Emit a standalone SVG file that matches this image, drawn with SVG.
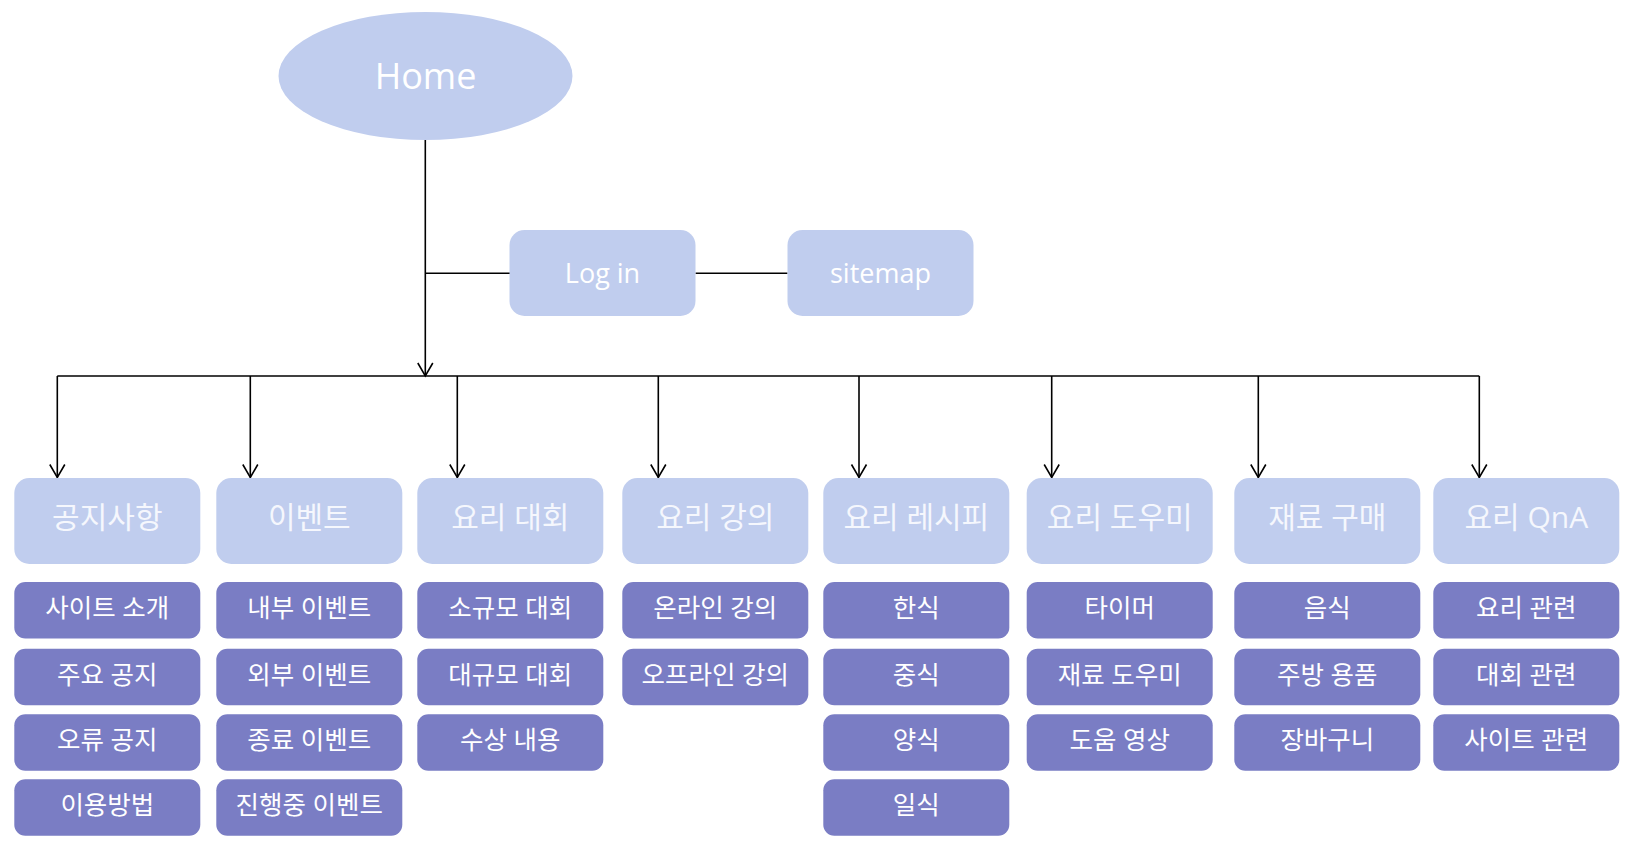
<svg xmlns="http://www.w3.org/2000/svg" width="1627" height="866" viewBox="0 0 1627 866">
<style>
text{font-family:"Open Sans","Noto Sans CJK KR",sans-serif;fill:#FFFFFF;text-anchor:middle}
.top{fill:#C0CDEE}
.hd{fill:#C0CDEE}
.sb{fill:#7A7DC4}
.ht{font-size:30px;fill:#F5F7FD}
.st{font-size:25.5px}
.lt{font-size:27px}
.ln{stroke:#000;stroke-width:1.6;fill:none}
</style>
<defs>
<marker id="arr" viewBox="-15 -9 17 18" refX="0" refY="0" markerWidth="17" markerHeight="18" markerUnits="userSpaceOnUse" orient="auto">
<path d="M-13,-7.5 L0,0 L-13,7.5" fill="none" stroke="#000" stroke-width="1.6"/>
</marker>
</defs>
<rect width="1627" height="866" fill="#FFFFFF"/>
<g id="connectors">
<path class="ln" d="M425.3,140 V376" marker-end="url(#arr)"/>
<path class="ln" d="M425.3,273.3 H510"/>
<path class="ln" d="M695.5,273.3 H787.5"/>
<path class="ln" d="M57.3,376 H1479.3"/>
<path class="ln" d="M57.3,376 V477.5" marker-end="url(#arr)"/>
<path class="ln" d="M250.3,376 V477.5" marker-end="url(#arr)"/>
<path class="ln" d="M457.3,376 V477.5" marker-end="url(#arr)"/>
<path class="ln" d="M658.3,376 V477.5" marker-end="url(#arr)"/>
<path class="ln" d="M859,376 V477.5" marker-end="url(#arr)"/>
<path class="ln" d="M1051.7,376 V477.5" marker-end="url(#arr)"/>
<path class="ln" d="M1258.3,376 V477.5" marker-end="url(#arr)"/>
<path class="ln" d="M1479.3,376 V477.5" marker-end="url(#arr)"/>
</g>
<g id="home"><ellipse class="top" cx="425.5" cy="76" rx="147" ry="64"/><text x="425.5" y="89" style="font-size:36px">Home</text></g>
<g id="login"><rect class="top" x="509.5" y="230" width="186" height="86" rx="15"/><text class="lt" x="602.5" y="283">Log in</text></g>
<g id="sitemap"><rect class="top" x="787.5" y="230" width="186" height="86" rx="15"/><text class="lt" x="880.5" y="283">sitemap</text></g>

<g id="col1">
<g id="h1"><rect class="hd" x="14.3" y="478" width="186" height="86" rx="15"/><text class="ht" x="107.3" y="528">공지사항</text></g>
<g id="s1-1"><rect class="sb" x="14.3" y="582" width="186" height="56.5" rx="11"/><text class="st" x="107.3" y="617">사이트 소개</text></g>
<g id="s1-2"><rect class="sb" x="14.3" y="648.7" width="186" height="56.5" rx="11"/><text class="st" x="107.3" y="683.7">주요 공지</text></g>
<g id="s1-3"><rect class="sb" x="14.3" y="714.3" width="186" height="56.5" rx="11"/><text class="st" x="107.3" y="749.3">오류 공지</text></g>
<g id="s1-4"><rect class="sb" x="14.3" y="779.3" width="186" height="56.5" rx="11"/><text class="st" x="107.3" y="814.3">이용방법</text></g>
</g>
<g id="col2">
<g id="h2"><rect class="hd" x="216.3" y="478" width="186" height="86" rx="15"/><text class="ht" x="309.3" y="528">이벤트</text></g>
<g id="s2-1"><rect class="sb" x="216.3" y="582" width="186" height="56.5" rx="11"/><text class="st" x="309.3" y="617">내부 이벤트</text></g>
<g id="s2-2"><rect class="sb" x="216.3" y="648.7" width="186" height="56.5" rx="11"/><text class="st" x="309.3" y="683.7">외부 이벤트</text></g>
<g id="s2-3"><rect class="sb" x="216.3" y="714.3" width="186" height="56.5" rx="11"/><text class="st" x="309.3" y="749.3">종료 이벤트</text></g>
<g id="s2-4"><rect class="sb" x="216.3" y="779.3" width="186" height="56.5" rx="11"/><text class="st" x="309.3" y="814.3">진행중 이벤트</text></g>
</g>
<g id="col3">
<g id="h3"><rect class="hd" x="417.3" y="478" width="186" height="86" rx="15"/><text class="ht" x="510.3" y="528">요리 대회</text></g>
<g id="s3-1"><rect class="sb" x="417.3" y="582" width="186" height="56.5" rx="11"/><text class="st" x="510.3" y="617">소규모 대회</text></g>
<g id="s3-2"><rect class="sb" x="417.3" y="648.7" width="186" height="56.5" rx="11"/><text class="st" x="510.3" y="683.7">대규모 대회</text></g>
<g id="s3-3"><rect class="sb" x="417.3" y="714.3" width="186" height="56.5" rx="11"/><text class="st" x="510.3" y="749.3">수상 내용</text></g>
</g>
<g id="col4">
<g id="h4"><rect class="hd" x="622.3" y="478" width="186" height="86" rx="15"/><text class="ht" x="715.3" y="528">요리 강의</text></g>
<g id="s4-1"><rect class="sb" x="622.3" y="582" width="186" height="56.5" rx="11"/><text class="st" x="715.3" y="617">온라인 강의</text></g>
<g id="s4-2"><rect class="sb" x="622.3" y="648.7" width="186" height="56.5" rx="11"/><text class="st" x="715.3" y="683.7">오프라인 강의</text></g>
</g>
<g id="col5">
<g id="h5"><rect class="hd" x="823.3" y="478" width="186" height="86" rx="15"/><text class="ht" x="916.3" y="528">요리 레시피</text></g>
<g id="s5-1"><rect class="sb" x="823.3" y="582" width="186" height="56.5" rx="11"/><text class="st" x="916.3" y="617">한식</text></g>
<g id="s5-2"><rect class="sb" x="823.3" y="648.7" width="186" height="56.5" rx="11"/><text class="st" x="916.3" y="683.7">중식</text></g>
<g id="s5-3"><rect class="sb" x="823.3" y="714.3" width="186" height="56.5" rx="11"/><text class="st" x="916.3" y="749.3">양식</text></g>
<g id="s5-4"><rect class="sb" x="823.3" y="779.3" width="186" height="56.5" rx="11"/><text class="st" x="916.3" y="814.3">일식</text></g>
</g>
<g id="col6">
<g id="h6"><rect class="hd" x="1026.7" y="478" width="186" height="86" rx="15"/><text class="ht" x="1119.7" y="528">요리 도우미</text></g>
<g id="s6-1"><rect class="sb" x="1026.7" y="582" width="186" height="56.5" rx="11"/><text class="st" x="1119.7" y="617">타이머</text></g>
<g id="s6-2"><rect class="sb" x="1026.7" y="648.7" width="186" height="56.5" rx="11"/><text class="st" x="1119.7" y="683.7">재료 도우미</text></g>
<g id="s6-3"><rect class="sb" x="1026.7" y="714.3" width="186" height="56.5" rx="11"/><text class="st" x="1119.7" y="749.3">도움 영상</text></g>
</g>
<g id="col7">
<g id="h7"><rect class="hd" x="1234.3" y="478" width="186" height="86" rx="15"/><text class="ht" x="1327.3" y="528">재료 구매</text></g>
<g id="s7-1"><rect class="sb" x="1234.3" y="582" width="186" height="56.5" rx="11"/><text class="st" x="1327.3" y="617">음식</text></g>
<g id="s7-2"><rect class="sb" x="1234.3" y="648.7" width="186" height="56.5" rx="11"/><text class="st" x="1327.3" y="683.7">주방 용품</text></g>
<g id="s7-3"><rect class="sb" x="1234.3" y="714.3" width="186" height="56.5" rx="11"/><text class="st" x="1327.3" y="749.3">장바구니</text></g>
</g>
<g id="col8">
<g id="h8"><rect class="hd" x="1433.3" y="478" width="186" height="86" rx="15"/><text class="ht" x="1526.3" y="528">요리 QnA</text></g>
<g id="s8-1"><rect class="sb" x="1433.3" y="582" width="186" height="56.5" rx="11"/><text class="st" x="1526.3" y="617">요리 관련</text></g>
<g id="s8-2"><rect class="sb" x="1433.3" y="648.7" width="186" height="56.5" rx="11"/><text class="st" x="1526.3" y="683.7">대회 관련</text></g>
<g id="s8-3"><rect class="sb" x="1433.3" y="714.3" width="186" height="56.5" rx="11"/><text class="st" x="1526.3" y="749.3">사이트 관련</text></g>
</g>
</svg>
